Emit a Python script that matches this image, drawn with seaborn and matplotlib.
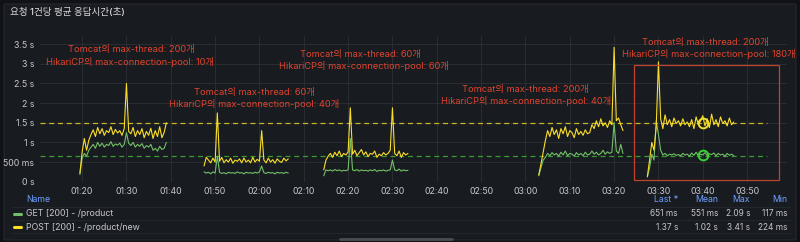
import numpy as np
import pandas as pd
import matplotlib
matplotlib.use("Agg")
import matplotlib.pyplot as plt
import seaborn as sns
from matplotlib.lines import Line2D
from matplotlib.patches import Rectangle, FancyBboxPatch

# ---------------- data ----------------
series_names = ["GET [200] - /product", "POST [200] - /product/new"]
step_min = 0.5  # 30-second samples

seg_starts = ["01:19:30", "01:47:30", "02:14:30", "03:03:00", "03:27:30"]

get_seg1 = [0.18, 0.60, 0.72, 0.65, 0.80, 0.88, 0.95, 0.85, 1.00, 0.90, 0.98, 0.88, 0.95, 0.92, 1.02, 0.90, 0.96, 0.93, 0.98, 0.88, 0.95, 1.25, 0.98, 0.92, 1.00, 0.88, 0.95, 0.90, 0.97, 0.85, 0.92, 0.88, 0.95, 0.80, 0.85, 0.78, 0.90, 0.82, 0.85, 1.00]
post_seg1 = [0.22, 0.75, 1.10, 0.80, 1.05, 1.20, 1.32, 1.15, 1.38, 1.22, 1.35, 1.18, 1.30, 1.25, 1.40, 1.20, 1.33, 1.24, 1.30, 1.18, 1.35, 2.50, 1.28, 1.22, 1.38, 1.15, 1.30, 1.20, 1.35, 1.12, 1.28, 1.18, 1.36, 1.10, 1.30, 1.15, 1.40, 1.12, 1.25, 1.50]

get_seg2 = [0.25, 0.22, 0.24, 0.20, 0.25, 0.22, 0.65, 0.24, 0.21, 0.23, 0.20, 0.24, 0.22, 0.23, 0.21, 0.25, 0.22, 0.23, 0.20, 0.24, 0.22, 0.23, 0.21, 0.24, 0.22, 0.25, 0.40, 0.23, 0.21, 0.24, 0.22, 0.23, 0.20, 0.24, 0.22, 0.23, 0.21, 0.24, 0.22]
post_seg2 = [0.40, 0.62, 0.55, 0.48, 0.60, 0.50, 1.75, 0.52, 0.62, 0.48, 0.56, 0.50, 0.60, 0.47, 0.55, 0.52, 0.58, 0.48, 0.60, 0.50, 0.55, 0.48, 0.62, 0.50, 0.57, 0.52, 1.30, 0.55, 0.48, 0.60, 0.50, 0.56, 0.47, 0.58, 0.52, 0.49, 0.60, 0.53, 0.58]

get_seg3 = [0.15, 0.30, 0.28, 0.30, 0.27, 0.31, 0.28, 0.30, 0.27, 0.29, 0.28, 0.30, 1.10, 0.30, 0.28, 0.31, 0.27, 0.30, 0.28, 0.29, 0.27, 0.30, 0.28, 0.31, 0.26, 0.29, 0.28, 0.30, 0.27, 0.29, 0.30, 0.55, 0.30, 0.28, 0.32, 0.27, 0.30, 0.28, 0.29]
post_seg3 = [0.30, 0.55, 0.65, 0.72, 0.62, 0.75, 0.66, 0.78, 0.64, 0.72, 0.68, 0.76, 1.88, 0.70, 0.80, 0.66, 0.74, 0.82, 0.68, 0.76, 0.64, 0.72, 0.70, 0.78, 0.62, 0.70, 0.66, 0.74, 0.68, 0.72, 0.80, 1.88, 0.72, 0.66, 0.78, 0.62, 0.74, 0.68, 0.72]

get_seg4 = [0.15, 0.35, 0.55, 0.62, 0.72, 0.66, 0.74, 0.68, 0.72, 0.65, 0.75, 0.68, 0.78, 0.66, 0.72, 0.70, 0.65, 0.74, 0.68, 0.72, 0.66, 0.75, 0.68, 0.70, 0.78, 0.70, 0.75, 0.68, 0.72, 0.80, 0.70, 0.76, 0.72, 0.75, 1.50, 0.78, 0.72, 0.95, 0.72]
post_seg4 = [0.17, 0.45, 0.75, 1.05, 1.30, 1.15, 1.38, 1.20, 1.32, 1.10, 1.35, 1.22, 1.40, 1.15, 1.30, 1.25, 1.12, 1.35, 1.20, 1.28, 1.18, 1.32, 1.22, 1.25, 1.45, 1.35, 1.55, 1.40, 1.60, 1.42, 1.50, 1.38, 1.55, 1.45, 3.42, 1.55, 1.62, 1.45, 1.30]

get_seg5 = [0.12, 0.35, 0.70, 0.55, 1.55, 1.20, 0.80, 0.68, 0.72, 0.66, 0.70, 0.68, 0.71, 0.67, 0.69, 0.66, 0.72, 0.68, 0.70, 0.65, 0.73, 0.67, 0.75, 0.66, 0.70, 0.68, 0.74, 0.66, 0.71, 0.69, 0.73, 0.66, 0.72, 0.68, 0.70, 0.65, 0.72, 0.67, 0.70, 0.66]
post_seg5 = [0.13, 0.55, 1.00, 0.80, 1.40, 3.05, 1.60, 1.35, 1.70, 1.45, 1.58, 1.40, 1.62, 1.48, 1.55, 1.42, 1.60, 1.45, 1.52, 1.40, 1.58, 1.35, 1.65, 1.45, 1.55, 1.68, 1.42, 1.60, 1.38, 1.72, 1.45, 1.58, 1.40, 1.65, 1.48, 1.55, 1.42, 1.62, 1.45, 1.52]

get_segments = [get_seg1, get_seg2, get_seg3, get_seg4, get_seg5]
post_segments = [post_seg1, post_seg2, post_seg3, post_seg4, post_seg5]

threshold_get = 0.66
threshold_post = 1.5
marker_time = "03:40:00"
marker_get = 0.68
marker_post = 1.49

box_times = ["03:24:36", "03:57:06"]
box_values = [0.04, 2.97]

x_tick_labels = ["01:20", "01:30", "01:40", "01:50", "02:00", "02:10", "02:20",
                 "02:30", "02:40", "02:50", "03:00", "03:10", "03:20", "03:30",
                 "03:40", "03:50"]
y_ticks = [0, 0.5, 1, 1.5, 2, 2.5, 3, 3.5]
y_tick_labels = ["0 s", "500 ms", "1 s", "1.5 s", "2 s", "2.5 s", "3 s", "3.5 s"]

annotations = [
    ("Tomcat의 max-thread: 200개", "HikariCP의 max-connection-pool: 10개"),
    ("Tomcat의 max-thread: 60개", "HikariCP의 max-connection-pool: 40개"),
    ("Tomcat의 max-thread: 60개", "HikariCP의 max-connection-pool: 60개"),
    ("Tomcat의 max-thread: 200개", "HikariCP의 max-connection-pool: 40개"),
    ("Tomcat의 max-thread: 200개", "HikariCP의 max-connection-pool: 180개"),
]

title = "요청 1건당 평균 응답시간(초)"
legend_cols = ["Last *", "Mean", "Max", "Min"]
legend_get = ["651 ms", "551 ms", "2.09 s", "117 ms"]
legend_post = ["1.37 s", "1.02 s", "3.41 s", "224 ms"]


def to_min(s):
    parts = [int(p) for p in s.split(":")]
    h, m = parts[0], parts[1]
    sec = parts[2] if len(parts) > 2 else 0
    return h * 60 + m + sec / 60.0


rows = []
for i, (g, p) in enumerate(zip(get_segments, post_segments)):
    t0 = to_min(seg_starts[i])
    for j, v in enumerate(g):
        rows.append((t0 + j * step_min, v, series_names[0], i))
    for j, v in enumerate(p):
        rows.append((t0 + j * step_min, v, series_names[1], i))
df = pd.DataFrame(rows, columns=["t", "v", "series", "seg"])

# ---------------- style ----------------
sns.set_theme(style="dark")
FONT = ["Inter", "Noto Sans CJK KR", "DejaVu Sans"]
plt.rcParams["font.family"] = FONT

PAGE = "#111217"
PANEL = "#181b1f"
GRID = "#2a2d32"
TXT = "#c7c7cf"
GREEN = "#73bf69"
YELLOW = "#fade2a"
RED = "#e0442e"

W, H = 800, 242
fig = plt.figure(figsize=(8, 2.42), dpi=100, facecolor=PAGE)


def fx(x):
    return x / W


def fy(y):
    return 1 - y / H


panel = FancyBboxPatch((fx(4), fy(240)), fx(792), 236 / H,
                       boxstyle="round,pad=0,rounding_size=0.004",
                       transform=fig.transFigure, facecolor=PANEL,
                       edgecolor="#25282d", linewidth=0.8, zorder=0)
fig.add_artist(panel)

ax = fig.add_axes([fx(40), fy(181.7), fx(747), (181.7 - 36.3) / H])
ax.set_facecolor(PANEL)
ax.patch.set_alpha(0)

sns.lineplot(data=df, x="t", y="v", hue="series", units="seg", estimator=None,
             palette={series_names[0]: GREEN, series_names[1]: YELLOW},
             linewidth=0.8, legend=False, ax=ax, sort=True)

ax.set_xlim(70.5, 239.0)
ax.set_ylim(0, 3.7)

xt = [to_min(s) for s in x_tick_labels]
ax.set_xticks(xt)
ax.set_xticklabels(x_tick_labels)
ax.set_yticks(y_ticks)
ax.set_yticklabels(y_tick_labels)
ax.tick_params(axis="both", colors=TXT, labelsize=6.3, length=0, pad=4)
ax.tick_params(axis="x", pad=4)
ax.set_xlabel("")
ax.set_ylabel("")
ax.grid(True, color=GRID, linewidth=0.7)
for s in ax.spines.values():
    s.set_visible(False)

# threshold dashed lines
x_end = to_min("03:54:36")
ax.plot([70.5, x_end], [threshold_post, threshold_post], color="#c9b52a",
        lw=0.9, ls=(0, (4, 3)), zorder=1)
ax.plot([70.5, x_end], [threshold_get, threshold_get], color="#3a9a34",
        lw=0.9, ls=(0, (4, 3)), zorder=1)

# circles
mt = to_min(marker_time)
ax.plot([mt], [marker_post], marker="o", ms=7, mfc="none", mec="#f2e12a", mew=1.4)
ax.plot([mt], [marker_get], marker="o", ms=7, mfc="none", mec="#35d435", mew=1.4)

# red box
bx0, bx1 = to_min(box_times[0]), to_min(box_times[1])
ax.add_patch(Rectangle((bx0, box_values[0]), bx1 - bx0, box_values[1] - box_values[0],
                       fill=False, edgecolor="#c0432d", lw=0.9, clip_on=False, zorder=5))

# annotations
ann_pos = [((131, 49.3), (130, 62.3)),
           ((254, 92.3), (254, 104.3)),
           ((360, 54), (364, 66)),
           ((525.5, 89.3), (525.6, 100.5)),
           ((705.5, 42.7), (709, 54))]
for (l1, l2), (p1, p2) in zip(annotations, ann_pos):
    fig.text(fx(p1[0]), fy(p1[1]), l1, color=RED, fontsize=6.7, ha="center",
             va="center", family=FONT)
    fig.text(fx(p2[0]), fy(p2[1]), l2, color=RED, fontsize=6.7, ha="center",
             va="center", family=FONT)

# title
fig.text(fx(10), fy(13), title, color="#d8d9de", fontsize=6.9, ha="left",
         va="center", family=FONT, fontweight="medium")

# legend table
fig.text(fx(26), fy(200), "Name", color="#6e9fff", fontsize=6.3, ha="left",
         va="center", family=FONT)
col_x = [678, 718, 750, 787]
for cx, lab in zip(col_x, legend_cols):
    fig.text(fx(cx), fy(200), lab, color="#6e9fff", fontsize=6.3, ha="right",
             va="center", family=FONT)
for yy in [207, 220, 233]:
    fig.add_artist(Line2D([fx(12), fx(790)], [fy(yy), fy(yy)], color="#24272c",
                          lw=0.7, transform=fig.transFigure))
for ry, name, vals, col in [(214, series_names[0], legend_get, GREEN),
                            (227, series_names[1], legend_post, YELLOW)]:
    fig.add_artist(Line2D([fx(14), fx(21)], [fy(ry), fy(ry)], color=col, lw=2.2,
                          transform=fig.transFigure))
    fig.text(fx(26), fy(ry), name, color=TXT, fontsize=6.3, ha="left",
             va="center", family=FONT)
    for cx, v in zip(col_x, vals):
        fig.text(fx(cx), fy(ry), v, color=TXT, fontsize=6.0, ha="right",
                 va="center", family=FONT)

# scrollbar
fig.add_artist(Line2D([fx(340), fx(452)], [fy(238.5), fy(238.5)], color="#4a4d52",
                      lw=2, transform=fig.transFigure, solid_capstyle="round"))

fig.savefig("out.png", dpi=100, facecolor=PAGE)
